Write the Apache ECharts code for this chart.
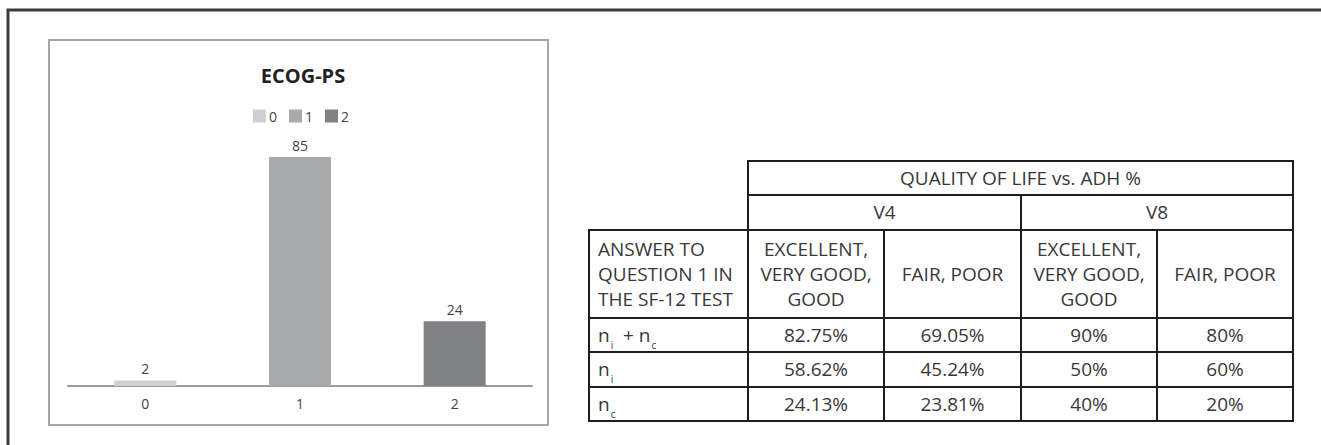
<!DOCTYPE html>
<html>
<head>
<meta charset="utf-8">
<script src="https://cdn.jsdelivr.net/npm/echarts@6/dist/echarts.min.js"></script>
<style>
  html,body{margin:0;padding:0;background:#fff;}
  #chart{position:absolute;left:0;top:0;width:1321px;height:445px;}
  #tbl{position:absolute;left:588px;top:160px;border-collapse:collapse;table-layout:fixed;
       font-family:"Open Sans",sans-serif;font-size:19px;color:#383838;}
  #tbl td{border:2px solid #1e1e1e;text-align:center;padding:0;line-height:25px;overflow:hidden;white-space:nowrap;}
  #tbl td.lab{text-align:left;padding-left:8px;}
  #tbl td.blank{border:none;}
  #tbl sub{font-size:10px;vertical-align:-7px;line-height:0;margin-left:1px;}
</style>
</head>
<body>
<div id="chart"></div>
<table id="tbl"></table>
<script>
// ---- chart data ----
const chartTitle = 'ECOG-PS';
const categories = ['0', '1', '2'];
const values = [2, 85, 24];

// ---- table data ----
const tableTitle = 'QUALITY OF LIFE vs. ADH %';
const visits = ['V4', 'V8'];
const answerHeader = 'ANSWER TO<br>QUESTION 1 IN<br>THE SF-12 TEST';
const answers = ['EXCELLENT,<br>VERY GOOD,<br>GOOD', 'FAIR, POOR'];
const rowLabels = ['n<sub>i</sub> &nbsp;+ n<sub>c</sub>', 'n<sub>i</sub>', 'n<sub>c</sub>'];
const rowNiNc = ['82.75%', '69.05%', '90%', '80%'];
const rowNi = ['58.62%', '45.24%', '50%', '60%'];
const rowNc = ['24.13%', '23.81%', '40%', '20%'];

// ---- build table ----
(function(){
  const colW = [159, 136, 137, 136, 136];
  const rowH = [34, 35, 88, 34, 35, 34];
  const t = document.getElementById('tbl');
  let html = '<colgroup>' + colW.map(w => '<col style="width:' + w + 'px">').join('') + '</colgroup>';
  html += '<tr style="height:' + rowH[0] + 'px"><td class="blank" rowspan="2"></td><td colspan="4">' + tableTitle + '</td></tr>';
  html += '<tr style="height:' + rowH[1] + 'px">' + visits.map(v => '<td colspan="2">' + v + '</td>').join('') + '</tr>';
  html += '<tr style="height:' + rowH[2] + 'px"><td class="lab">' + answerHeader + '</td>' +
          visits.map(() => answers.map(a => '<td>' + a + '</td>').join('')).join('') + '</tr>';
  const rows = [rowNiNc, rowNi, rowNc];
  rows.forEach((r, i) => {
    html += '<tr style="height:' + rowH[3 + i] + 'px"><td class="lab">' + rowLabels[i] + '</td>' +
            r.map(v => '<td>' + v + '</td>').join('') + '</tr>';
  });
  t.innerHTML = html;
})();

// ---- chart ----
const colors = ['#d0d0d2', '#a8a9ac', '#808183'];
const chart = echarts.init(document.getElementById('chart'), null, {renderer: 'svg'});
const series = categories.map((c, i) => ({
  name: c,
  type: 'bar',
  barWidth: 62,
  barGap: '-100%',
  itemStyle: {color: colors[i]},
  label: {show: true, position: 'top', distance: 5, color: '#444', fontSize: 14, fontFamily: 'Open Sans'},
  data: categories.map((_, j) => j === i ? values[i] : '-')
}));
chart.setOption({
  animation: false,
  textStyle: {fontFamily: 'Open Sans'},
  graphic: [
    {type: 'polyline', shape: {points: [[8, 445], [8, 10], [1321, 10]]},
     style: {stroke: '#3c3c3c', lineWidth: 3, fill: null}},
    {type: 'rect', shape: {x: 49, y: 40, width: 499, height: 385},
     style: {stroke: '#a6a6a6', lineWidth: 2, fill: null}}
  ],
  title: {
    text: chartTitle, left: 298, top: 60, textAlign: 'center',
    textStyle: {fontSize: 20, fontWeight: 'bold', color: '#222', fontFamily: 'Open Sans'}
  },
  legend: {
    data: categories, left: 248, top: 104, itemWidth: 13, itemHeight: 13, itemGap: 12,
    icon: 'rect', textStyle: {fontSize: 14, color: '#444', padding: [0, 0, 0, -2]}
  },
  grid: {left: 68, width: 464, top: 157, bottom: 59},
  xAxis: {
    type: 'category', data: categories,
    axisLine: {lineStyle: {color: '#9b9b9b', width: 2}},
    axisTick: {show: false},
    axisLabel: {color: '#444', fontSize: 14, margin: 10}
  },
  yAxis: {type: 'value', min: 0, max: Math.max(...values), show: false, splitLine: {show: false}},
  series: series
});
</script>
</body>
</html>
